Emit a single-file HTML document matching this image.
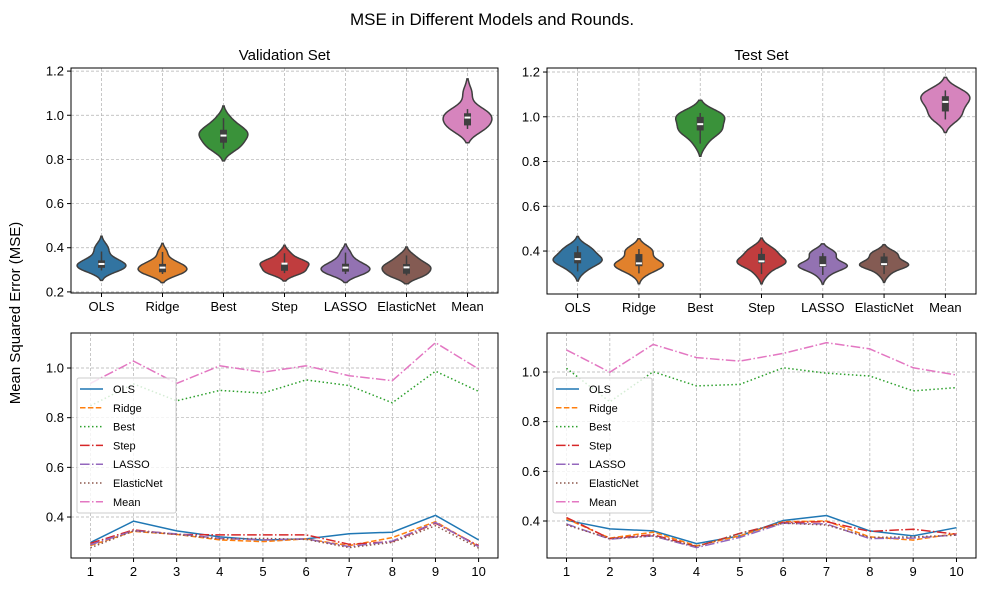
<!DOCTYPE html>
<html><head><meta charset="utf-8"><style>
body{margin:0;background:#fff;}
svg text{font-family:"Liberation Sans","DejaVu Sans",sans-serif;fill:#000;}
</style></head><body>
<svg id="fig" width="985" height="592" xmlns="http://www.w3.org/2000/svg">
<rect width="985" height="592" fill="#fff"/>
<text x="492" y="25" text-anchor="middle" font-size="17">MSE in Different Models and Rounds.</text>
<text transform="translate(20,313) rotate(-90)" text-anchor="middle" font-size="15">Mean Squared Error (MSE)</text>
</svg>
<script>
const models = ["OLS","Ridge","Best","Step","LASSO","ElasticNet","Mean"];
const rounds = [1,2,3,4,5,6,7,8,9,10];
const valOLS = [0.297,0.383,0.344,0.320,0.307,0.312,0.333,0.339,0.407,0.308];
const valRidge = [0.285,0.342,0.330,0.308,0.301,0.312,0.285,0.317,0.381,0.281];
const valBest = [0.848,0.936,0.868,0.910,0.899,0.952,0.929,0.860,0.987,0.906];
const valStep = [0.294,0.348,0.330,0.328,0.328,0.328,0.290,0.301,0.375,0.285];
const valLASSO = [0.288,0.345,0.332,0.314,0.308,0.312,0.281,0.303,0.378,0.281];
const valElastic = [0.276,0.344,0.330,0.312,0.314,0.310,0.277,0.298,0.365,0.275];
const valMean = [0.938,1.028,0.938,1.009,0.983,1.009,0.969,0.949,1.102,0.996];
const testOLS = [0.403,0.368,0.360,0.309,0.340,0.402,0.422,0.360,0.340,0.373];
const testRidge = [0.409,0.331,0.355,0.300,0.340,0.397,0.400,0.336,0.323,0.350];
const testBest = [1.015,0.880,1.001,0.944,0.950,1.017,0.995,0.984,0.924,0.937];
const testStep = [0.414,0.329,0.345,0.297,0.350,0.394,0.397,0.358,0.367,0.347];
const testLASSO = [0.388,0.327,0.340,0.293,0.334,0.391,0.388,0.329,0.331,0.344];
const testElastic = [0.384,0.329,0.340,0.297,0.350,0.391,0.384,0.334,0.336,0.343];
const testMean = [1.089,0.999,1.111,1.058,1.044,1.075,1.118,1.093,1.017,0.988];
const violinTicks = [0.2,0.4,0.6,0.8,1.0,1.2];
const lineTicks = [0.4,0.6,0.8,1.0];

const NS="http://www.w3.org/2000/svg";
const svg=document.getElementById('fig');
function mk(tag,attrs,parent){const e=document.createElementNS(NS,tag);for(const k in attrs)e.setAttribute(k,attrs[k]);(parent||svg).appendChild(e);return e;}
const lineColors=["#1f77b4","#ff7f0e","#2ca02c","#d62728","#9467bd","#8c564b","#e377c2"];
const violinColors=["#3274a1","#e1812c","#3a923a","#c03d3e","#9372b2","#845b53","#d684bd"];
const dashes=["none","5.5,2.4","1.5,2.5","9.6,2.4,1.5,2.4","9.6,2.4,1.5,2.4","1.5,2.5","9.6,2.4,1.5,2.4"];
const slugs=["ols","ridge","best","step","lasso","elasticnet","mean"];

function axesFrame(g,L,R,T,B,name){
  const r=mk('rect',{x:L,y:T,width:R-L,height:B-T,fill:'none',stroke:'#000','stroke-width':1},g);
  
  
}
function quant(a,q){const s=[...a].sort((x,y)=>x-y);const p=(s.length-1)*q;const lo=Math.floor(p),hi=Math.ceil(p);return s[lo]+(s[hi]-s[lo])*(p-lo);}

function violinPanel(prefix,title,L,R,T,B,ymin,ymax,series){
  const g=mk('g',{});
  
  
  const y=v=>B-(v-ymin)/(ymax-ymin)*(B-T);
  const step=(R-L)/7;
  const x=i=>L+(i+0.5)*step;
  const t=mk('text',{x:(L+R)/2,y:T-8,'text-anchor':'middle','font-size':15},g);t.textContent=title;
  
  
  violinTicks.forEach(v=>{const yy=y(v);if(yy<T-1||yy>B+1)return;
    mk('line',{x1:L,x2:R,y1:yy,y2:yy,stroke:'#b0b0b0','stroke-width':0.7,'stroke-dasharray':'3,2'},g);
    mk('line',{x1:L-4,x2:L,y1:yy,y2:yy,stroke:'#000'},g);
    const tt=mk('text',{x:L-7,y:yy+4.5,'text-anchor':'end','font-size':13},g);tt.textContent=v.toFixed(1);
    
    
  });
  models.forEach((m,i)=>{const xx=x(i);
    mk('line',{x1:xx,x2:xx,y1:T,y2:B,stroke:'#b0b0b0','stroke-width':0.7,'stroke-dasharray':'3,2'},g);
    mk('line',{x1:xx,x2:xx,y1:B,y2:B+4,stroke:'#000'},g);
    const tt=mk('text',{x:xx,y:B+18,'text-anchor':'middle','font-size':13},g);tt.textContent=m;
    
    
  });
  series.forEach((d,i)=>{
    const n=d.length,mean=d.reduce((a,b)=>a+b,0)/n;
    const sd=Math.sqrt(d.reduce((a,b)=>a+(b-mean)**2,0)/(n-1));
    const bw=sd*Math.pow(n,-0.2);
    const lo=Math.min(...d)-2*bw,hi=Math.max(...d)+2*bw;
    const pts=[];let mx=0;
    for(let k=0;k<=80;k++){const v=lo+(hi-lo)*k/80;let s=0;d.forEach(u=>s+=Math.exp(-0.5*((v-u)/bw)**2));pts.push([v,s]);if(s>mx)mx=s;}
    const hw=step*0.4,xx=x(i);
    let p='M';pts.forEach(([v,s],k)=>{p+=(k?' L':'')+(xx+s/mx*hw).toFixed(1)+','+y(v).toFixed(1);});
    for(let k=pts.length-1;k>=0;k--){p+=' L'+(xx-pts[k][1]/mx*hw).toFixed(1)+','+y(pts[k][0]).toFixed(1);}
    p+=' Z';
    const v=mk('path',{d:p,fill:violinColors[i],stroke:'#3f3f3f','stroke-width':1.5},g);
    
    
    const q1=quant(d,0.25),q3=quant(d,0.75),med=quant(d,0.5),iqr=q3-q1;
    const wl=Math.min(...d.filter(u=>u>=q1-1.5*iqr)),wh=Math.max(...d.filter(u=>u<=q3+1.5*iqr));
    mk('line',{x1:xx,x2:xx,y1:y(wl),y2:y(wh),stroke:'#3f3f3f','stroke-width':1.5},g);
    const bx=mk('rect',{x:xx-3.5,y:y(q3),width:7,height:y(q1)-y(q3),fill:'#3f3f3f'},g);
    
    
    mk('line',{x1:xx-3,x2:xx+3,y1:y(med),y2:y(med),stroke:'#fff','stroke-width':2},g);
  });
  axesFrame(g,L,R,T,B,prefix);
}

function linePanel(prefix,L,R,T,B,ymin,ymax,series){
  const g=mk('g',{});
  
  
  const y=v=>B-(v-ymin)/(ymax-ymin)*(B-T);
  const xmin=1-0.45,xmax=10+0.45;
  const x=r=>L+(r-xmin)/(xmax-xmin)*(R-L);
  lineTicks.forEach(v=>{const yy=y(v);
    mk('line',{x1:L,x2:R,y1:yy,y2:yy,stroke:'#b0b0b0','stroke-width':0.7,'stroke-dasharray':'3,2'},g);
    mk('line',{x1:L-4,x2:L,y1:yy,y2:yy,stroke:'#000'},g);
    const tt=mk('text',{x:L-7,y:yy+4.5,'text-anchor':'end','font-size':13},g);tt.textContent=v.toFixed(1);
    
    
  });
  rounds.forEach(r=>{const xx=x(r);
    mk('line',{x1:xx,x2:xx,y1:T,y2:B,stroke:'#b0b0b0','stroke-width':0.7,'stroke-dasharray':'3,2'},g);
    mk('line',{x1:xx,x2:xx,y1:B,y2:B+4,stroke:'#000'},g);
    const tt=mk('text',{x:xx,y:B+18,'text-anchor':'middle','font-size':13},g);tt.textContent=r;
    
    
  });
  series.forEach((d,i)=>{
    const pts=d.map((v,k)=>x(rounds[k]).toFixed(1)+','+y(v).toFixed(1)).join(' ');
    const pl=mk('polyline',{points:pts,fill:'none',stroke:lineColors[i],'stroke-width':1.5,'stroke-dasharray':dashes[i]},g);
    
    
  });
  const lg=mk('g',{},g);
  
  
  const lx=L+6,ly=378;
  mk('rect',{x:lx,y:ly,width:99,height:135,fill:'#fff','fill-opacity':0.8,stroke:'#ccc',rx:2},lg);
  models.forEach((m,i)=>{const yy=ly+11+i*18.8;
    mk('line',{x1:lx+3,x2:lx+26,y1:yy,y2:yy,stroke:lineColors[i],'stroke-width':1.5,'stroke-dasharray':dashes[i]},lg);
    const tt=mk('text',{x:lx+36,y:yy+4,'font-size':11},lg);tt.textContent=m;
    
    
  });
  axesFrame(g,L,R,T,B,prefix);
}

violinPanel('validation','Validation Set',71,498,68,293,0.195,1.214,[valOLS,valRidge,valBest,valStep,valLASSO,valElastic,valMean]);
violinPanel('test','Test Set',547,976,68,294,0.208,1.218,[testOLS,testRidge,testBest,testStep,testLASSO,testElastic,testMean]);
linePanel('validation-rounds',71,498,333,558,0.235,1.141,[valOLS,valRidge,valBest,valStep,valLASSO,valElastic,valMean]);
linePanel('test-rounds',547,976,333,558,0.251,1.157,[testOLS,testRidge,testBest,testStep,testLASSO,testElastic,testMean]);
</script>
</body></html>
